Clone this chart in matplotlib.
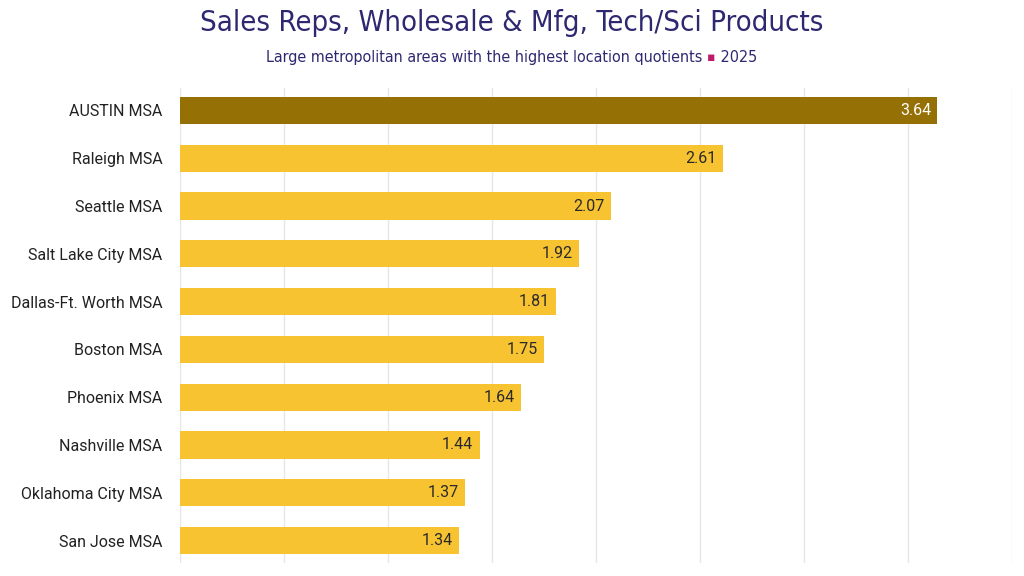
import matplotlib
matplotlib.use('Agg')
import matplotlib.pyplot as plt

# data
areas = ['AUSTIN MSA', 'Raleigh MSA', 'Seattle MSA', 'Salt Lake City MSA',
         'Dallas-Ft. Worth MSA', 'Boston MSA', 'Phoenix MSA', 'Nashville MSA',
         'Oklahoma City MSA', 'San Jose MSA']
quotients = [3.64, 2.61, 2.07, 1.92, 1.81, 1.75, 1.64, 1.44, 1.37, 1.34]
highlight = 'AUSTIN MSA'

title = 'Sales Reps, Wholesale & Mfg, Tech/Sci Products'
subtitle = 'Large metropolitan areas with the highest location quotients'
year = '2025'

GOLD = '#F8C331'
DARK_GOLD = '#957004'
NAVY = '#2E2870'
PINK = '#C2186B'

fig = plt.figure(figsize=(10.24, 5.76), dpi=100)
ax = fig.add_axes([180 / 1024, 13 / 576, 832 / 1024, 475 / 576])

colors = [DARK_GOLD if a == highlight else GOLD for a in areas]
ypos = list(range(len(areas)))
ax.barh(ypos, quotients, height=0.57, color=colors, zorder=2)

for y, v, a in zip(ypos, quotients, areas):
    ax.text(v - 0.03, y, f'{v:.2f}', ha='right', va='center', fontsize=11.5,
            family='Roboto', color='white' if a == highlight else '#2a2a2a', zorder=3)

ax.set_xlim(0, 4)
ax.set_ylim(len(areas) - 0.53, -0.47)
ax.set_xticks([i * 0.5 for i in range(9)])
ax.set_xticklabels([])
ax.tick_params(axis='x', length=0)
ax.grid(axis='x', color='#e6e6e6', linewidth=1, zorder=0)
ax.set_yticks(ypos)
ax.set_yticklabels(areas, fontsize=11.5, family='Roboto', color='#222222')
ax.tick_params(axis='y', length=0, pad=12.5)
for s in ax.spines.values():
    s.set_visible(False)

tfont = dict(family='DejaVu Sans', fontstretch='condensed', color=NAVY)
fig.text(0.5, 0.96, title, ha='center', va='center', fontsize=21, **tfont)

# subtitle with a pink bullet, centred as a whole
sy = 0.901
sfs = 11.5
full = fig.text(0.5, sy, subtitle + ' \u25aa ' + year, ha='center', va='center',
                fontsize=sfs, alpha=0, **tfont)
fig.canvas.draw()
x0 = full.get_window_extent().x0 / fig.bbox.width
sub = fig.text(x0, sy, subtitle + ' ', ha='left', va='center', fontsize=sfs, **tfont)
fig.canvas.draw()
x1 = sub.get_window_extent().x1 / fig.bbox.width
bul = fig.text(x1, sy, '\u25aa', ha='left', va='center', fontsize=9,
               family='DejaVu Sans', color=PINK)
fig.canvas.draw()
x2 = bul.get_window_extent().x1 / fig.bbox.width
fig.text(x2, sy, ' ' + year, ha='left', va='center', fontsize=sfs, **tfont)

fig.savefig('out.png', dpi=100, facecolor='white')
